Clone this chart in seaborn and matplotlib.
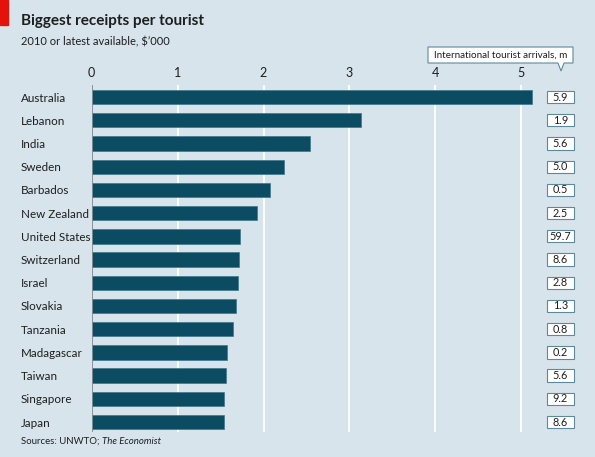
import matplotlib
matplotlib.use("Agg")
import matplotlib.pyplot as plt
import matplotlib.transforms as mtransforms
from matplotlib.patches import Rectangle, Polygon
import pandas as pd
import seaborn as sns

# data
countries = ["Australia", "Lebanon", "India", "Sweden", "Barbados", "New Zealand",
             "United States", "Switzerland", "Israel", "Slovakia", "Tanzania",
             "Madagascar", "Taiwan", "Singapore", "Japan"]
receipts = [5.12, 3.13, 2.54, 2.24, 2.08, 1.93, 1.73, 1.72, 1.70, 1.68, 1.65,
            1.57, 1.56, 1.54, 1.54]
arrivals = ["5.9", "1.9", "5.6", "5.0", "0.5", "2.5", "59.7", "8.6", "2.8", "1.3",
            "0.8", "0.2", "5.6", "9.2", "8.6"]
x_ticks = [0, 1, 2, 3, 4, 5]

df = pd.DataFrame({"country": countries, "receipts": receipts})

bg = "#d7e4ec"
bar_col = "#0b4c63"
txt = "#1e1e1e"

sns.set_style("white")
plt.rcParams["font.family"] = ["Lato", "DejaVu Sans"]

W, H = 595, 457
fig = plt.figure(figsize=(W / 100, H / 100), dpi=100, facecolor=bg)
ax = fig.add_axes([91.7 / W, (H - 432) / H, 446.7 / W, 347 / H])
ax.set_facecolor(bg)

sns.barplot(data=df, x="receipts", y="country", color=bar_col, saturation=1,
            width=0.62, edgecolor="#3f7689", linewidth=0.5, ax=ax)

ax.set_xlim(0, 5.2)
ax.set_ylim(14.43, -0.52)
ax.set_xlabel("")
ax.set_ylabel("")
for s in ax.spines.values():
    s.set_visible(False)

ax.xaxis.tick_top()
ax.set_xticks(x_ticks)
ax.tick_params(axis="x", length=0, pad=4, labelsize=9, labelcolor=txt)
ax.tick_params(axis="y", length=0, pad=51, labelsize=8.4, labelcolor=txt)
for lab in ax.get_yticklabels():
    lab.set_horizontalalignment("left")
ax.grid(axis="x", color="white", lw=1.3)
ax.grid(axis="y", visible=False)
ax.set_axisbelow(True)
ax.axvline(0, color="#7d888e", lw=1.3, zorder=1)

# arrivals boxes on the right
trans = mtransforms.blended_transform_factory(fig.transFigure, ax.transData)
for i, val in enumerate(arrivals):
    fig.add_artist(Rectangle((547 / W, i - 0.265), 26.5 / W, 0.53, transform=trans,
                             facecolor="white", edgecolor="#5d8a9a", lw=0.8))
    fig.text(560.3 / W, i, val, transform=trans, ha="center", va="center",
             fontsize=7.8, color=txt)

# header box with pointer
pts = [(428, 47), (573, 47), (573, 63), (564, 63), (561, 71), (558, 63), (428, 63)]
fig.add_artist(Polygon([(x / W, 1 - y / H) for x, y in pts], closed=True,
                       transform=fig.transFigure, facecolor="white",
                       edgecolor="#5d8a9a", lw=0.8))
fig.text(500.5 / W, 1 - 55.5 / H, "International tourist arrivals, m", ha="center",
         va="center", fontsize=7.1, color=txt)

# red tag, titles, source
fig.add_artist(Rectangle((0, 1 - 25 / H), 8 / W, 25 / H, color="#e3120b",
                         transform=fig.transFigure))
fig.text(21 / W, 1 - 21 / H, "Biggest receipts per tourist", fontsize=11,
         weight="bold", va="center", color=txt)
fig.text(21 / W, 1 - 42 / H, "2010 or latest available, $\u2019000", fontsize=8,
         va="center", color=txt)
src = fig.text(21 / W, 1 - 446 / H, "Sources: UNWTO; ", fontsize=6.9, va="bottom",
               color=txt)
ax.annotate("The Economist", xy=(1, 0), xycoords=src, va="bottom", ha="left",
            fontsize=6.9, style="italic", color=txt, annotation_clip=False)

fig.savefig("out.png", dpi=100, facecolor=bg)
